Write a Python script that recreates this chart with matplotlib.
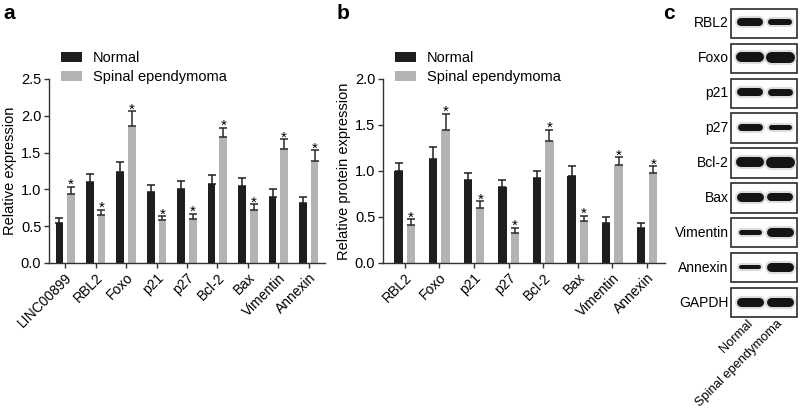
import numpy as np
import matplotlib
matplotlib.use('Agg')
import matplotlib.pyplot as plt
from matplotlib.patches import Rectangle

plt.rcParams['font.family'] = ['Liberation Sans', 'DejaVu Sans']
plt.rcParams['font.size'] = 10

# ---- data ----
genes_a = ['LINC00899', 'RBL2', 'Foxo', 'p21', 'p27', 'Bcl-2', 'Bax', 'Vimentin', 'Annexin']
normal_a = [0.55, 1.10, 1.23, 0.97, 1.00, 1.08, 1.05, 0.90, 0.82]
normal_a_err = [0.06, 0.11, 0.14, 0.09, 0.11, 0.12, 0.11, 0.10, 0.08]
spinal_a = [0.94, 0.65, 1.86, 0.58, 0.60, 1.71, 0.72, 1.55, 1.39]
spinal_a_err = [0.09, 0.07, 0.20, 0.055, 0.07, 0.13, 0.075, 0.13, 0.14]

genes_b = ['RBL2', 'Foxo', 'p21', 'p27', 'Bcl-2', 'Bax', 'Vimentin', 'Annexin']
normal_b = [1.00, 1.13, 0.90, 0.83, 0.92, 0.95, 0.44, 0.38]
normal_b_err = [0.09, 0.13, 0.08, 0.07, 0.08, 0.10, 0.06, 0.05]
spinal_b = [0.41, 1.45, 0.60, 0.33, 1.33, 0.46, 1.06, 0.98]
spinal_b_err = [0.065, 0.17, 0.07, 0.05, 0.12, 0.055, 0.09, 0.07]

blot_rows = ['RBL2', 'Foxo', 'p21', 'p27', 'Bcl-2', 'Bax', 'Vimentin', 'Annexin', 'GAPDH']
blot_lanes = ['Normal', 'Spinal ependymoma']
# band thickness in pixels, per lane
band_normal = [8, 10, 8, 7, 10, 9, 5, 4, 9]
band_spinal = [6, 11, 7, 5, 11, 8, 9, 9, 9]

BLACK = '#1e1e1e'
GREY = '#b3b3b3'

fig = plt.figure(figsize=(8, 4.17), dpi=100)
W, H = 800, 417


def px_axes(x0, y0, x1, y1):
    return fig.add_axes([x0 / W, 1 - y1 / H, (x1 - x0) / W, (y1 - y0) / H])


def bar_panel(ax, names, n, n_err, s, s_err, ymax, yticks, xlim, off, bw, ylabel):
    x = np.arange(len(names))
    ax.bar(x - off, n, bw, color=BLACK, zorder=2)
    ax.bar(x + off, s, bw, color=GREY, zorder=2)
    ax.errorbar(x - off, n, yerr=[np.zeros(len(n)), n_err], fmt='none',
                ecolor=BLACK, elinewidth=1.1, capsize=2.6, capthick=1.1, zorder=3)
    ax.errorbar(x + off, s, yerr=[np.zeros(len(s)), s_err], fmt='none',
                ecolor='#2a2a2a', elinewidth=1.1, capsize=2.6, capthick=1.1, zorder=3)
    for xi, v, e in zip(x + off, s, s_err):
        ax.annotate('*', (xi, v + e), xytext=(0, -1.5), textcoords='offset points',
                    ha='center', va='baseline', fontsize=11)
    ax.set_ylim(0, ymax)
    ax.set_xlim(*xlim)
    ax.set_yticks(yticks)
    ax.set_yticklabels(['%.1f' % t for t in yticks], fontsize=10.5)
    ax.set_xticks(x)
    ax.set_xticklabels(names, rotation=45, ha='right', rotation_mode='anchor', fontsize=10)
    for sp in ['top', 'right']:
        ax.spines[sp].set_visible(False)
    for sp in ['left', 'bottom']:
        ax.spines[sp].set_linewidth(1.0)
        ax.spines[sp].set_color('#333333')
    ax.tick_params(axis='both', length=3.5, width=1.0, color='#333333', pad=2)
    ax.set_ylabel(ylabel, fontsize=10.5, labelpad=3)
    ax.legend(['Normal', 'Spinal ependymoma'], loc='upper left',
              bbox_to_anchor=(0.043, 1.15), frameon=False, borderaxespad=0,
              borderpad=0, handlelength=1.45, handleheight=0.65,
              labelspacing=0.32, handletextpad=0.75, fontsize=10.5)


ax_a = px_axes(49, 79, 325, 263)
bar_panel(ax_a, genes_a, normal_a, normal_a_err, spinal_a, spinal_a_err,
          2.5, [0, 0.5, 1.0, 1.5, 2.0, 2.5], (-0.53, 8.53), 0.19, 0.25,
          'Relative expression')

ax_b = px_axes(383, 79, 665, 263)
bar_panel(ax_b, genes_b, normal_b, normal_b_err, spinal_b, spinal_b_err,
          2.0, [0, 0.5, 1.0, 1.5, 2.0], (-0.63, 7.52), 0.18, 0.24,
          'Relative protein expression')

# ---- panel c: western blot ----
ax_c = px_axes(730, 8, 798, 318)
ax_c.set_xlim(-0.67, 1.6)
ax_c.set_ylim(len(blot_rows) - 0.57, -0.43)
ax_c.axis('off')
for j, name in enumerate(blot_rows):
    ax_c.add_patch(Rectangle((-0.64, j - 0.415), 2.21, 0.83, fill=False,
                             edgecolor='#2b2b2b', lw=1.2, clip_on=False))
    ax_c.text(-0.72, j, name, ha='right', va='center', fontsize=10)
    for lane, thick in enumerate([band_normal[j], band_spinal[j]]):
        lw = thick * 72 / 100.0
        ax_c.plot([lane - 0.3, lane + 0.3], [j - 0.02, j - 0.02], color='#bdbdbd',
                  lw=lw + 3, solid_capstyle='round', alpha=0.5)
        ax_c.plot([lane - 0.3, lane + 0.3], [j - 0.02, j - 0.02], color='#141414',
                  lw=lw, solid_capstyle='round')
for lane, name in enumerate(blot_lanes):
    ax_c.text(lane - 0.12, len(blot_rows) - 0.58, name, rotation=45, ha='right',
              va='top', rotation_mode='anchor', fontsize=9.3)

for label, xp in [('a', 3), ('b', 337), ('c', 663)]:
    fig.text(xp / W, 1 - 4 / H, label, fontsize=15, fontweight='bold', va='top', ha='left')

fig.savefig('out.png', dpi=100)
